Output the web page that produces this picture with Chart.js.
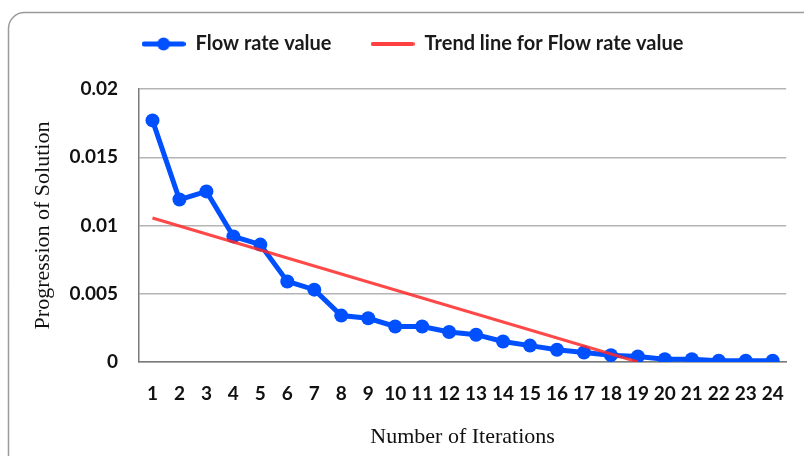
<!DOCTYPE html>
<html>
<head>
<meta charset="utf-8">
<script src="https://cdn.jsdelivr.net/npm/chart.js@4/dist/chart.umd.min.js"></script>
<style>
  body { margin: 0; background: #fff; }
  #wrap { width: 804px; height: 456px; }
</style>
</head>
<body>
<div id="wrap"><canvas id="chart"></canvas></div>
<script>
// iterations on the x axis
var iterations = ["1","2","3","4","5","6","7","8","9","10","11","12",
                  "13","14","15","16","17","18","19","20","21","22","23","24"];
// flow rate value at each iteration
var flowRate = [0.0177, 0.0119, 0.0125, 0.0092, 0.0086, 0.0059, 0.0053, 0.0034,
                0.0032, 0.0026, 0.0026, 0.0022, 0.0020, 0.0015, 0.0012, 0.0009,
                0.0007, 0.0005, 0.0004, 0.0002, 0.0002, 0.0001, 0.0001, 0.0001];
// trend line: only its two ends, joined by spanGaps
var trendLine = [0.01055, null, null, null, null, null, null, null, null,
                 null, null, null, null, null, null, null, null, null, 0,
                 null, null, null, null, null];
var yTicks = [0, 0.005, 0.01, 0.015, 0.02];

var BLUE = "#0050ff";
var RED = "#ff4040";

// little pictures for the legend (line with marker / plain line)
function legendIcon(color, width, lineW, dotR) {
    var c = document.createElement("canvas");
    c.width = width;
    c.height = 16;
    var g = c.getContext("2d");
    g.strokeStyle = color;
    g.lineWidth = lineW;
    g.lineCap = "round";
    g.beginPath();
    g.moveTo(lineW / 2, 8);
    g.lineTo(width - lineW / 2, 8);
    g.stroke();
    if (dotR) {
        g.fillStyle = color;
        g.beginPath();
        g.arc(width / 2, 8, dotR, 0, Math.PI * 2);
        g.fill();
    }
    return c;
}
var blueIcon = legendIcon(BLUE, 44, 5, 6.5);
var redIcon = legendIcon(RED, 44, 4, 0);

// rounded grey frame round the whole chart
var framePlugin = {
    id: "frame",
    beforeDraw: function (chart) {
        var ctx = chart.ctx;
        ctx.save();
        ctx.fillStyle = "#fff";
        ctx.fillRect(0, 0, chart.width, chart.height);
        ctx.strokeStyle = "#9a9a9a";
        ctx.lineWidth = 1.5;
        ctx.beginPath();
        ctx.roundRect(8.5, 12.5, 820, 470, 16);
        ctx.stroke();
        ctx.restore();
    }
};

// leave a fixed gap under the legend
var legendSpace = {
    id: "legendSpace",
    beforeInit: function (chart) {
        var fit = chart.legend.fit;
        chart.legend.fit = function () {
            fit.call(this);
            this.height = 94;
        };
    }
};

var ctx = document.getElementById("chart");
var chart = new Chart(ctx, {
    type: "line",
    data: {
        labels: iterations,
        datasets: [
            {
                label: "Flow rate value",
                data: flowRate,
                borderColor: BLUE,
                backgroundColor: BLUE,
                borderWidth: 5,
                pointRadius: 7,
                pointHoverRadius: 7,
                pointBorderWidth: 0,
                pointStyle: "circle",
                tension: 0,
                fill: false,
                order: 2,
            },{
                label: "Trend line for Flow rate value",
                data: trendLine,
                borderColor: "rgba(255,40,40,0.85)",
                backgroundColor: RED,
                borderWidth: 3,
                pointRadius: 0,
                spanGaps: true,
                fill: false,
                order: 1,
            }
        ],
    },
    options: {
        responsive: true,
        maintainAspectRatio: false,
        animation: false,
        layout: {
            padding: { left: 34, right: 13, top: -5, bottom: 0 },
        },
        plugins: {
            legend: {
                display: true,
                position: "top",
                align: "center",
                labels: {
                    usePointStyle: true,
                    pointStyleWidth: 44,
                    padding: 39,
                    color: "#1a1a1a",
                    font: { family: "Lato", size: 20, weight: "bold" },
                    generateLabels: function (chart) {
                        var icons = [blueIcon, redIcon];
                        return chart.data.datasets.map(function (ds, i) {
                            return {
                                text: ds.label,
                                pointStyle: icons[i],
                                fillStyle: ds.backgroundColor,
                                strokeStyle: ds.borderColor,
                                lineWidth: 0,
                                hidden: false,
                                datasetIndex: i,
                                fontColor: "#1a1a1a",
                            };
                        });
                    },
                },
            },
            tooltip: { enabled: false },
        },
        scales: {
            x: {
                type: "category",
                offset: true,
                grid: { display: false, drawTicks: false },
                border: { display: true, color: "#7a7a7a", width: 1.5 },
                ticks: {
                    color: "#111",
                    padding: 20,
                    maxRotation: 0,
                    autoSkip: false,
                    font: { family: "Lato", size: 19, weight: "bold" },
                },
                title: {
                    display: true,
                    text: "Number of Iterations",
                    color: "#111",
                    font: { family: "Liberation Serif", size: 22 },
                    padding: { top: 0, bottom: 6 },
                },
                afterFit: function (scale) { scale.height = 94; },
            },
            y: {
                min: 0,
                max: 0.02,
                afterBuildTicks: function (scale) {
                    scale.ticks = yTicks.map(function (v) { return { value: v }; });
                },
                grid: { color: "#b4b4b4", lineWidth: 1.5, drawTicks: false },
                border: { display: true, color: "#7a7a7a", width: 1.5 },
                ticks: {
                    color: "#111",
                    padding: 21,
                    font: { family: "Lato", size: 19, weight: "bold" },
                    callback: function (v) { return String(v); },
                },
                title: {
                    display: true,
                    text: "Progression of Solution",
                    color: "#111",
                    font: { family: "Liberation Serif", size: 22 },
                    padding: { top: -4, bottom: 0 },
                },
                afterFit: function (scale) { scale.width = 105; },
            },
        },
    },
    plugins: [framePlugin, legendSpace],
});
</script>
</body>
</html>
